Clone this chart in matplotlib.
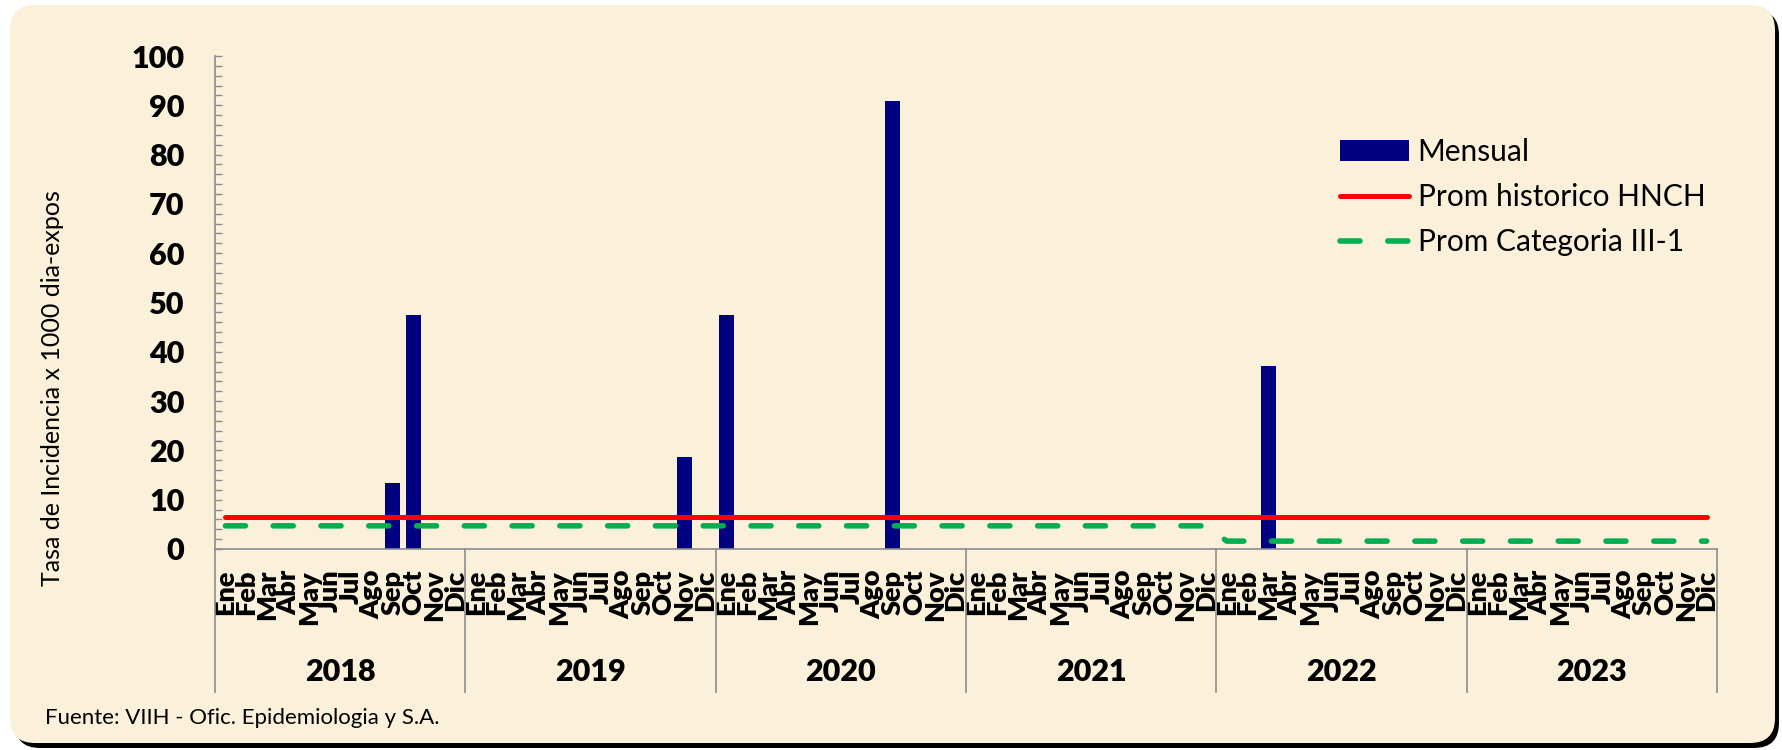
import numpy as np
import matplotlib
matplotlib.use("Agg")
import matplotlib.pyplot as plt
import matplotlib.transforms as mtransforms
from matplotlib.patches import FancyBboxPatch

plt.rcParams['font.family'] = ['Lato', 'DejaVu Sans']

# ---- data ----
meses = ['Ene', 'Feb', 'Mar', 'Abr', 'May', 'Jun', 'Jul', 'Ago', 'Sep', 'Oct', 'Nov', 'Dic']
anios = ['2018', '2019', '2020', '2021', '2022', '2023']

mensual_2018 = [0, 0, 0, 0, 0, 0, 0, 0, 13.4, 47.5, 0, 0]
mensual_2019 = [0, 0, 0, 0, 0, 0, 0, 0, 0, 0, 18.7, 0]
mensual_2020 = [47.5, 0, 0, 0, 0, 0, 0, 0, 90.9, 0, 0, 0]
mensual_2021 = [0, 0, 0, 0, 0, 0, 0, 0, 0, 0, 0, 0]
mensual_2022 = [0, 0, 37.1, 0, 0, 0, 0, 0, 0, 0, 0, 0]
mensual_2023 = [0, 0, 0, 0, 0, 0, 0, 0, 0, 0, 0, 0]

# promedio por anio (constante dentro de cada anio)
prom_hnch_anual = [6.5, 6.5, 6.5, 6.5, 6.5, 6.5]
prom_cat_anual = [4.7, 4.7, 4.7, 4.7, 1.6, 1.6]

mensual = np.array(mensual_2018 + mensual_2019 + mensual_2020 +
                   mensual_2021 + mensual_2022 + mensual_2023)
prom_hnch = np.repeat(prom_hnch_anual, 12)
prom_cat = np.repeat(prom_cat_anual, 12)
etiquetas = meses * len(anios)
x_pos = np.arange(len(mensual))

W, H = 1783, 750
fig = plt.figure(figsize=(W / 100, H / 100), dpi=100)
fig.patch.set_facecolor('white')

# background frame with shadow
bg = fig.add_axes([0, 0, 1, 1], zorder=0)
bg.set_xlim(0, W)
bg.set_ylim(H, 0)
bg.axis('off')
bg.add_patch(FancyBboxPatch((15 + 25, 10 + 25), 1764 - 50, 738 - 50,
                            boxstyle='round,pad=25', fc='black', ec='none'))
bg.add_patch(FancyBboxPatch((10 + 25, 5 + 25), 1765 - 50, 738 - 50,
                            boxstyle='round,pad=25', fc='#FBF1DA', ec='none'))

ax_l, ax_r, ax_t, ax_b = 215, 1717, 56, 549
ax = fig.add_axes([ax_l / W, 1 - ax_b / H, (ax_r - ax_l) / W, (ax_b - ax_t) / H], zorder=1)
ax.patch.set_alpha(0)

b = ax.bar(x_pos, mensual, width=0.72, color='#000080', label='Mensual', zorder=2)
l1, = ax.plot(x_pos, prom_hnch, color='#FF0000', lw=3.6, label='Prom historico HNCH', zorder=3,
              solid_capstyle='round')
l2, = ax.plot(x_pos, prom_cat, color='#00B050', lw=4.0, dashes=(3.6, 5.0), dash_capstyle='round',
              label='Prom Categoria III-1', zorder=3)

ax.set_xlim(-0.5, len(mensual) - 0.5)
ax.set_ylim(0, 100)
ax.set_yticks(np.arange(0, 101, 10))
ax.set_yticks(np.arange(0, 101, 2), minor=True)
ax.tick_params(axis='y', which='both', direction='in', length=5, width=1, color='#8C8C8C')
ax.tick_params(axis='y', which='major', pad=22, labelsize=22)
for lab in ax.get_yticklabels():
    lab.set_fontweight('heavy')

ax.set_xticks(x_pos)
ax.set_xticklabels(etiquetas, rotation=90, fontsize=19.5, fontweight='heavy')
ax.tick_params(axis='x', length=0, pad=15)

for s in ['top', 'right']:
    ax.spines[s].set_visible(False)
for s in ['left', 'bottom']:
    ax.spines[s].set_color('#8C8C8C')
    ax.spines[s].set_linewidth(1.2)

# year groups
trans = mtransforms.blended_transform_factory(ax.transData, ax.transAxes)
sep_bottom = (ax_b - 692) / (ax_b - ax_t)
year_y = (ax_b - 672) / (ax_b - ax_t)
for i, anio in enumerate(anios):
    ax.plot([i * 12 - 0.5, i * 12 - 0.5], [0, sep_bottom], transform=trans,
            color='#8C8C8C', lw=1.2, clip_on=False)
    ax.text(i * 12 + 5.5, year_y, anio, transform=trans, ha='center', va='center',
            fontsize=22, fontweight='heavy')
ax.plot([len(mensual) - 0.5] * 2, [0, sep_bottom], transform=trans,
        color='#8C8C8C', lw=1.2, clip_on=False)

ax.legend([b, l1, l2], ['Mensual', 'Prom historico HNCH', 'Prom Categoria III-1'],
          loc='upper left', bbox_to_anchor=(1340 / W, 1 - 138 / H),
          bbox_transform=fig.transFigure, frameon=False, fontsize=21.5,
          handlelength=2.3, handletextpad=0.3, labelspacing=0.57,
          borderpad=0, borderaxespad=0)

fig.text(53 / W, 1 - 388 / H, 'Tasa de Incidencia x 1000 dia-expos', rotation=90,
         ha='center', va='center', fontsize=18)
fig.text(45 / W, 1 - 718 / H, 'Fuente: VIIH - Ofic. Epidemiologia y S.A.',
         ha='left', va='center', fontsize=16)

fig.savefig('out.png', dpi=100)
